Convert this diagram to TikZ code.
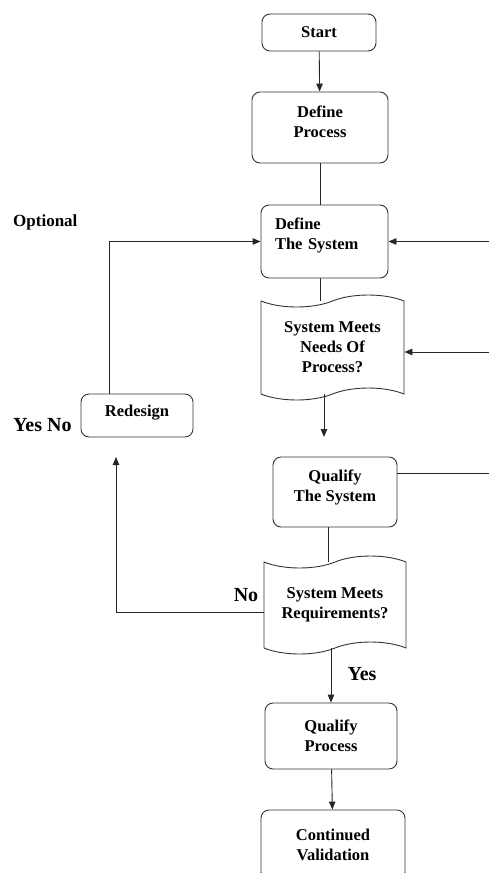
\documentclass[tikz,border=0pt]{standalone}
\usepackage{fontspec}
\setmainfont{Liberation Serif}
\usetikzlibrary{shapes.symbols,arrows.meta}

\tikzset{
  stage/.style={draw=black!80, line width=0.9pt, rounded corners=8pt, align=center,
    inner sep=2pt, font=\bfseries\fontsize{16.5}{20}\selectfont},
  check/.style={draw=black!80, line width=0.9pt, tape, tape bend height=12pt, align=center,
    inner sep=2pt, font=\bfseries\fontsize{16.5}{20}\selectfont},
  lbl/.style={font=\bfseries\fontsize{20}{23}\selectfont, inner sep=0pt},
  link/.style={line width=0.9pt, black!85},
  >={Triangle[length=8pt,width=6.5pt]}
}

\begin{document}
\begin{tikzpicture}[x=1pt,y=-1pt]
          \clip (0,0) rectangle (489,873);
          \node[stage, minimum width=114pt, minimum height=37pt] (start) at (319,32.5) {Start};
          \node[stage, minimum width=136pt, minimum height=71pt] (dproc) at (320,127.5) {Define\\Process\\[-8pt]\mbox{}};
          \node[stage, minimum width=127pt, minimum height=73pt, align=left, inner xsep=14pt, text width=99pt] (dsys) at (324.5,241.5) {Define\\The System\\[-4pt]\mbox{}};
          \node[check, minimum width=143pt, minimum height=105pt] (needs) at (332.5,347.5) {System Meets\\Needs Of\\Process?};
          \node[stage, minimum width=112pt, minimum height=43pt] (redesign) at (137,415.5) {Redesign\\[-10pt]\mbox{}};
          \node[stage, minimum width=124pt, minimum height=70pt] (qsys) at (335,492) {Qualify\\The System\\[-8pt]\mbox{}};
          \node[check, minimum width=142pt, minimum height=98pt] (reqs) at (335,605) {System Meets\\Requirements?};
          \node[stage, minimum width=132pt, minimum height=66pt] (qproc) at (331,736) {Qualify\\Process};
          \node[stage, minimum width=144pt, minimum height=70pt] (cval) at (333,845) {Continued\\Validation};
          % labels
          \node[lbl, font=\bfseries\fontsize{17}{20}\selectfont, anchor=west] (opt) at (13,222) {Optional};
          \node[lbl, anchor=west] (yesno) at (13,425) {Yes No};
          \node[lbl] (no) at (246,595) {No};
          \node[lbl] (yes) at (362,674) {Yes};
          % free ends
          \coordinate (inA) at (489,241.5);
          \coordinate (inB) at (489,352);
          \coordinate (outC) at (489,473);
          \coordinate (gap) at (324,437);
          \coordinate (back) at (116,457);
          % connectors
          \draw[link,->] (start) -- (dproc);
          \draw[link] (dproc.south) -- (dproc.south |- dsys.north);
          \draw[link,->] (inA) -- (dsys.east);
          \draw[link,->] (inB) -- (inB -| needs.east);
          \draw[link] ([xshift=-4.5pt]dsys.south) -- ([xshift=-12.5pt]needs.north);
          \draw[link,->] (needs.south -| gap) -- (gap);
          \draw[link,->] ([xshift=-28pt]redesign.north) |- (dsys.west);
          \draw[link,->] ([yshift=-7pt]reqs.west) -| (back);
          \draw[link] (qsys.east |- outC) -- (outC);
          \draw[link] ([xshift=-7pt]qsys.south) -- ([xshift=-7pt]reqs.north);
          \draw[link,->] (reqs.south -| qproc) -- (qproc);
          \draw[link,->] (qproc) -- (cval);
        \end{tikzpicture}
\end{document}
